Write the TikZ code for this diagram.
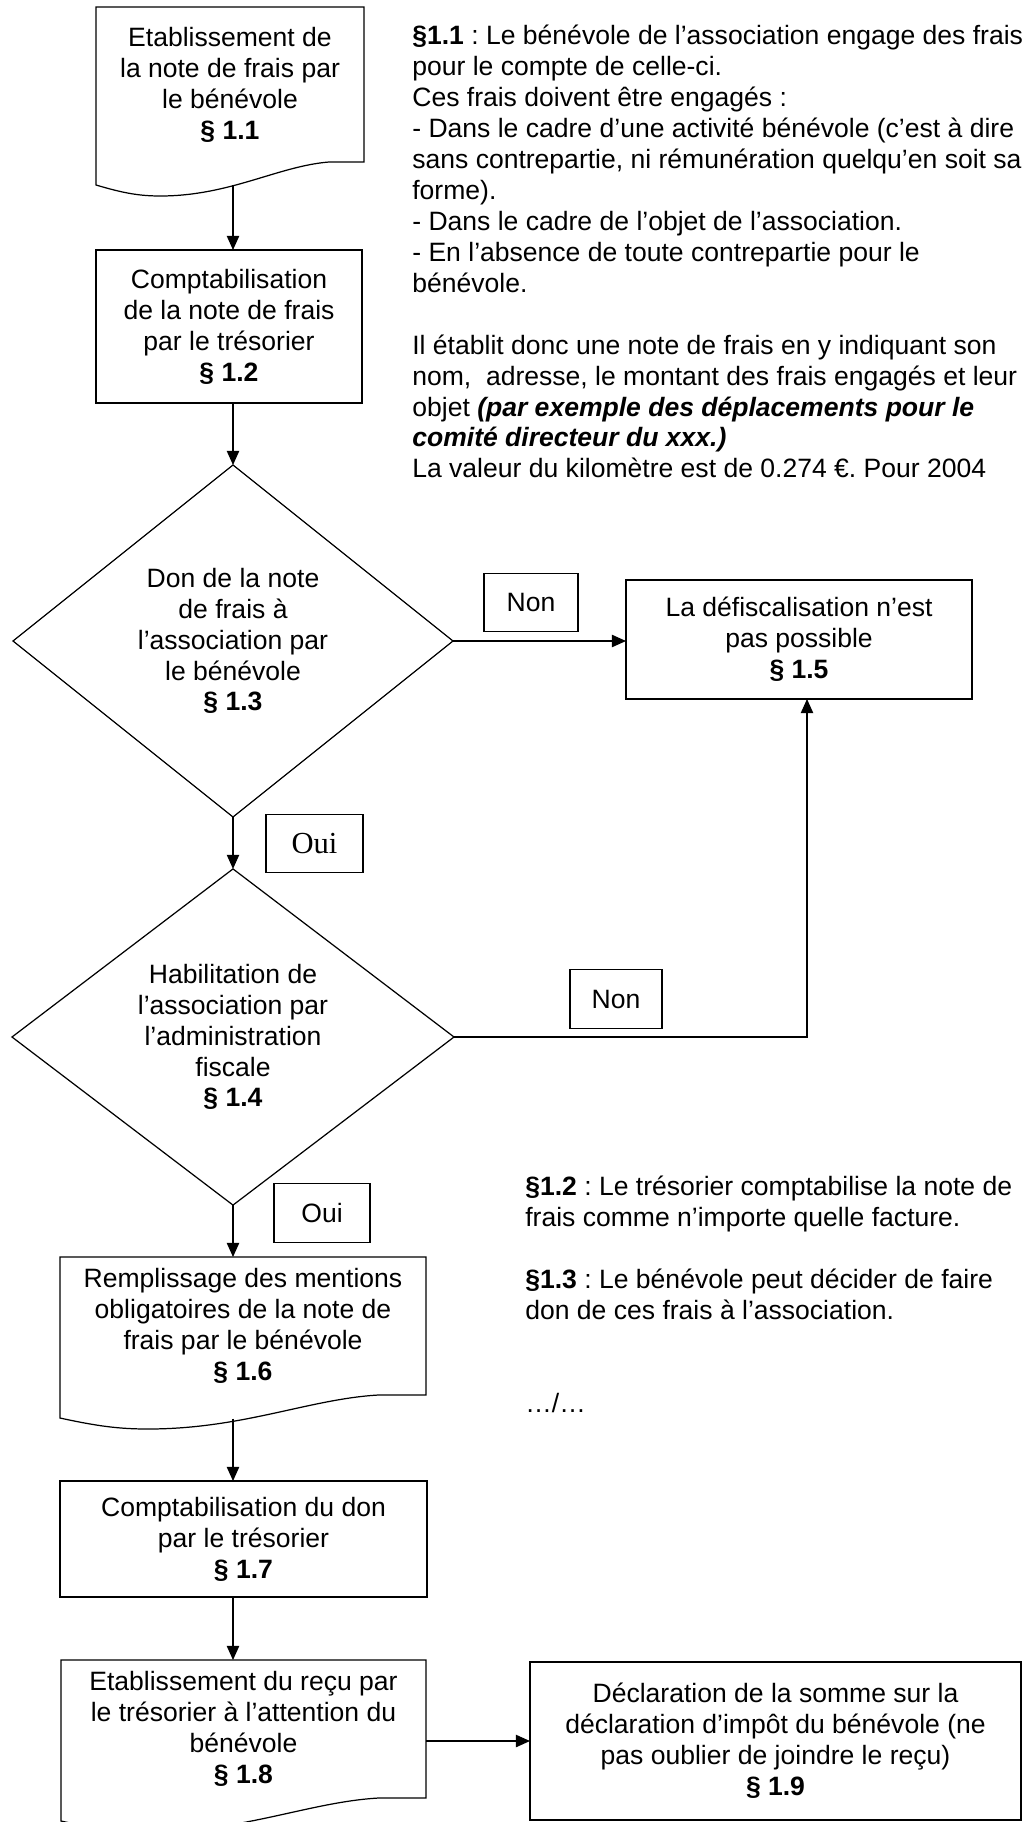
\documentclass[tikz,border=0pt]{standalone}
\usepackage{fontspec}
\setmainfont{Liberation Sans}
\newfontfamily\ouiserif{Liberation Serif}
\usepackage{tikz}
\usetikzlibrary{calc,shapes.geometric,arrows.meta,positioning}
\frenchspacing

\newcommand{\chartsize}{\fontsize{15.1}{17.6}\selectfont}

% outline of a document symbol (wavy bottom) around node #1
\newcommand{\docoutline}[1]{%
  \draw[line width=0.7pt] (#1.south east) -- (#1.north east) -- (#1.north west) -- ($(#1.south west)+(0,-0.46)$)
    .. controls ($(#1.south west)!0.10!(#1.south east)+(0,-0.62)$) and ($(#1.south west)!0.16!(#1.south east)+(0,-0.68)$) .. ($(#1.south west)!0.24!(#1.south east)+(0,-0.68)$)
    .. controls ($(#1.south west)!0.50!(#1.south east)+(0,-0.68)$) and ($(#1.south west)!0.68!(#1.south east)+(0,-0.08)$) .. ($(#1.south west)!0.87!(#1.south east)$)
    -- cycle;}

\begin{document}
\begin{tikzpicture}[
  font=\chartsize,
  stepbox/.style={draw, line width=0.7pt, align=center, inner sep=0pt, outer sep=0pt},
  docbox/.style={align=center, inner sep=0pt, outer sep=0pt},
  choice/.style={draw, diamond, line width=0.7pt, align=center, inner sep=0pt, outer sep=0pt},
  answer/.style={draw, line width=0.6pt, minimum height=1.17cm, inner sep=0pt, outer sep=0pt},
  note/.style={align=left, anchor=north west, inner sep=0pt},
  flow/.style={-{Triangle[length=8pt, width=7pt]}, line width=0.7pt},
]
  \useasboundingbox (0,0) rectangle (20.46,-36.44);
  \coordinate (axis) at (4.66,0);

  % Left column: steps of the procedure
  \node[docbox, minimum width=5.36cm, minimum height=3.10cm] (d1) at (4.60,-1.69) {Etablissement de\\la note de frais par\\le bénévole\\\textbf{§ 1.1}};
  \docoutline{d1}
  \node[stepbox, minimum width=5.32cm, minimum height=3.06cm] (b2) at (4.58,-6.53) {Comptabilisation\\de la note de frais\\par le trésorier\\\textbf{§ 1.2}};
  \node[choice, minimum width=8.80cm, minimum height=7.04cm] (q3) at (4.66,-12.82) {Don de la note\\de frais à\\l’association par\\le bénévole\\\textbf{§ 1.3}};
  \node[choice, minimum width=8.84cm, minimum height=6.46cm] (q4) at (4.66,-20.74) {Habilitation de\\l’association par\\l’administration\\fiscale\\\textbf{§ 1.4}};
  \node[docbox, minimum width=7.32cm, minimum height=2.76cm] (d6) at (4.86,-26.52) {Remplissage des mentions\\obligatoires de la note de\\frais par le bénévole\\\textbf{§ 1.6}};
  \docoutline{d6}
  \node[stepbox, minimum width=7.34cm, minimum height=2.32cm] (b7) at (4.87,-30.78) {Comptabilisation du don\\par le trésorier\\\textbf{§ 1.7}};
  \node[docbox, minimum width=7.30cm, minimum height=2.76cm] (d8) at (4.87,-34.58) {Etablissement du reçu par\\le trésorier à l’attention du\\bénévole\\\textbf{§ 1.8}};
  \docoutline{d8}

  % Right column: outcomes
  \node[stepbox, minimum width=6.92cm, minimum height=2.38cm] (b5) at (15.98,-12.79) {La défiscalisation n’est\\pas possible\\\textbf{§ 1.5}};
  \node[stepbox, minimum width=9.82cm, minimum height=3.16cm] (b9) at (15.51,-34.82) {Déclaration de la somme sur la\\déclaration d’impôt du bénévole (ne\\pas oublier de joindre le reçu)\\\textbf{§ 1.9}};

  % Answers
  \node[answer, minimum width=1.88cm] (non1) at (10.62,-12.05) {Non};
  \node[answer, minimum width=1.84cm] (non2) at (12.32,-19.98) {Non};
  \node[answer, minimum width=1.94cm, font=\ouiserif\fontsize{17.4}{20}\selectfont] (oui1) at (6.29,-16.87) {Oui};
  \node[answer, minimum width=1.92cm] (oui2) at (6.44,-24.26) {Oui};

  % Flow
  \coordinate (w1) at ($(d1.south -| axis)+(0,-0.47)$);
  \coordinate (w6) at ($(d6.south -| axis)+(0,-0.47)$);
  \draw[flow] (w1) -- (b2.north -| axis);
  \draw[flow] (b2.south -| axis) -- (q3.north);
  \draw[flow] (q3.south) -- (q4.north);
  \draw[flow] (q4.south) -- (d6.north -| axis);
  \draw[flow] (w6) -- (b7.north -| axis);
  \draw[flow] (b7.south -| axis) -- (d8.north -| axis);
  \draw[flow] (q3.east) -- (q3.east -| b5.west);
  \coordinate (up5) at ($(b5.south)+(0.16,0)$);
  \draw[flow] (q4.east) -| (up5);
  \draw[flow] (b9.west -| d8.east) -- (b9.west);

  % Notes
  \node[note] (txt11) at (8.24,-0.50) {\textbf{§1.1} : Le bénévole de l’association engage des frais\\
    pour le compte de celle-ci.\\
    Ces frais doivent être engagés :\\
    - Dans le cadre d’une activité bénévole (c’est à dire\\
    sans contrepartie, ni rémunération quelqu’en soit sa\\
    forme).\\
    - Dans le cadre de l’objet de l’association.\\
    - En l’absence de toute contrepartie pour le\\
    bénévole.\\[17.6pt]
    Il établit donc une note de frais en y indiquant son\\
    nom,~ adresse, le montant des frais engagés et leur\\
    objet \textbf{\textit{(par exemple des déplacements pour le}}\\
    \textbf{\textit{comité directeur du xxx.)}}\\
    La valeur du kilomètre est de 0.274 €. Pour 2004};
  \node[note] (txt12) at (10.50,-23.52) {\textbf{§1.2} : Le trésorier comptabilise la note de\\
    frais comme n’importe quelle facture.\\[17.6pt]
    \textbf{§1.3} : Le bénévole peut décider de faire\\
    don de ces frais à l’association.\\[35.2pt]
    …/…};
\end{tikzpicture}
\end{document}
